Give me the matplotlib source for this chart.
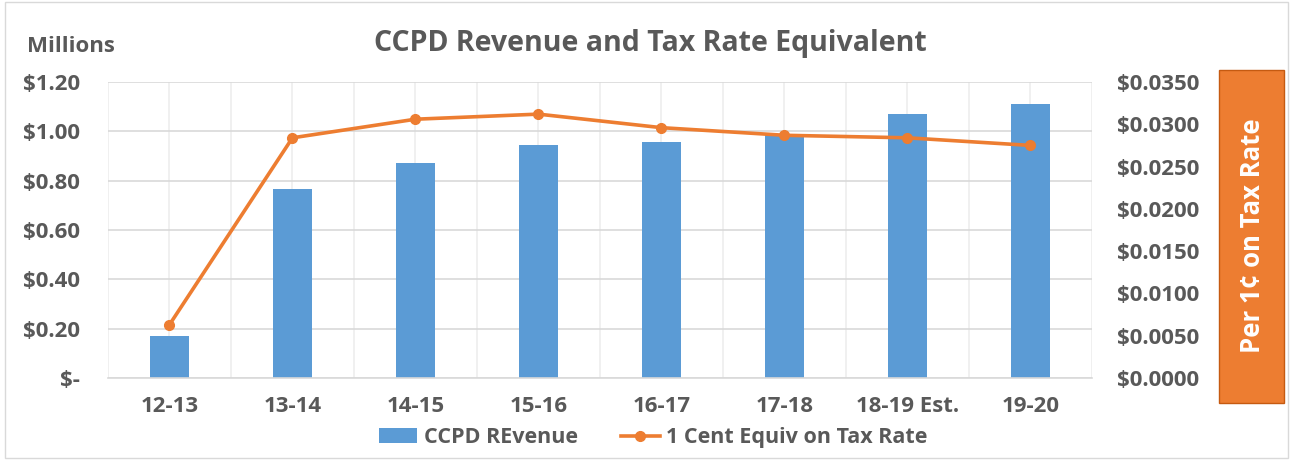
import numpy as np
import matplotlib.pyplot as plt
from matplotlib.patches import Rectangle
from matplotlib.ticker import FixedLocator

plt.rcParams['font.family'] = ['Open Sans', 'DejaVu Sans']
plt.rcParams['font.weight'] = 'bold'

categories = ['12-13', '13-14', '14-15', '15-16', '16-17', '17-18', '18-19 Est.', '19-20']
revenue = [0.17, 0.766, 0.871, 0.944, 0.957, 0.985, 1.07, 1.11]
cent_equiv = [0.0063, 0.0284, 0.0306, 0.0312, 0.0296, 0.0287, 0.0284, 0.0275]
left_ticks = [0, 0.2, 0.4, 0.6, 0.8, 1.0, 1.2]
left_labels = ['$-', '$0.20', '$0.40', '$0.60', '$0.80', '$1.00', '$1.20']
right_ticks = [0, 0.005, 0.01, 0.015, 0.02, 0.025, 0.03, 0.035]

blue = '#5B9BD5'
orange = '#ED7D31'
grey = '#595959'
grid = '#D9D9D9'

fig = plt.figure(figsize=(12.93, 4.63), dpi=100)
ax = fig.add_axes([0.0835, 0.1836, 0.761, 0.6393])
ax2 = ax.twinx()

x = np.arange(len(categories))
bars = ax.bar(x, revenue, width=0.31, color=blue, label='CCPD REvenue', zorder=2)
line, = ax2.plot(x, cent_equiv, color=orange, lw=2.6, marker='o', ms=7,
                 label='1 Cent Equiv on Tax Rate', zorder=3)

ax.set_xlim(-0.5, len(categories) - 0.5)
ax.set_ylim(0, 1.2)
ax2.set_ylim(0, 0.035)

ax.set_yticks(left_ticks)
ax.set_yticklabels(left_labels)
ax2.set_yticks(right_ticks)
ax2.set_yticklabels(['$%.4f' % v for v in right_ticks])
ax.set_xticks(x)
ax.set_xticklabels(categories)

# grid: horizontal + vertical lines at centres and boundaries
ax.xaxis.set_minor_locator(FixedLocator(np.arange(-0.5, len(categories), 1.0)))
ax.grid(True, which='major', axis='y', color=grid, lw=1.2, zorder=0)
ax.grid(True, which='both', axis='x', color='#EEEEEE', lw=1.2, zorder=0)
ax.set_axisbelow(True)

for a in (ax, ax2):
    for s in a.spines.values():
        s.set_visible(False)
    a.tick_params(length=0, which='both', labelsize=16, labelcolor=grey)
ax.spines['bottom'].set_visible(True)
ax.spines['bottom'].set_color(grid)
ax.spines['bottom'].set_linewidth(1.2)
ax.tick_params(axis='y', pad=20)
ax.tick_params(axis='x', pad=13)
ax2.tick_params(axis='y', pad=18)

fig.text(0.021, 0.888, 'Millions', fontsize=16, color=grey, fontweight='bold')
fig.text(0.503, 0.905, 'CCPD Revenue and Tax Rate Equivalent', fontsize=20.5,
         color=grey, fontweight='bold', ha='center', va='center')

# orange side label box
fig.patches.append(Rectangle((0.943, 0.13), 0.050, 0.719, transform=fig.transFigure,
                             facecolor=orange, edgecolor='#C55A11', lw=1))
fig.text(0.969, 0.49, 'Per 1¢ on Tax Rate', rotation=90, color='white',
         fontsize=18.5, fontweight='bold', ha='center', va='center')

# chart border
fig.patches.append(Rectangle((0.004, 0.01), 0.992, 0.985, transform=fig.transFigure,
                             facecolor='none', edgecolor='#D9D9D9', lw=1))

fig.legend(handles=[bars, line], loc='center', bbox_to_anchor=(0.505, 0.055), ncol=2,
           frameon=False, fontsize=15.5, handlelength=1.8, columnspacing=2.0,
           handletextpad=0.3, labelcolor=grey)

fig.savefig('out.png', dpi=100)
